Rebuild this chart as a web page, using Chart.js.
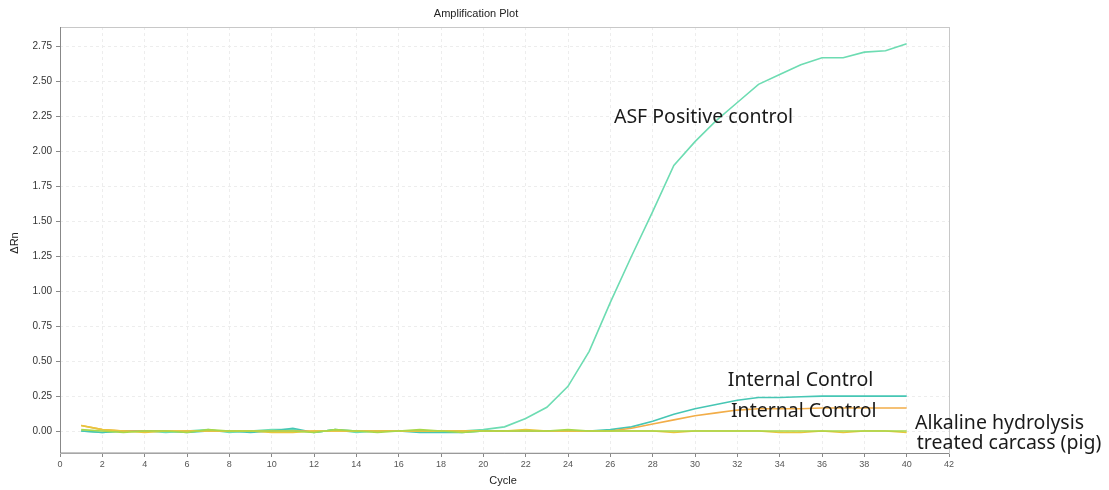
<!DOCTYPE html>
<html>
<head>
<meta charset="utf-8">
<script src="https://cdn.jsdelivr.net/npm/chart.js@4/dist/chart.umd.min.js"></script>
<style>
  html, body { margin: 0; padding: 0; background: #fff; }
  #wrap { width: 1109px; height: 490px; position: relative; }
</style>
</head>
<body>
<div id="wrap"><canvas id="plot"></canvas></div>
<script>
var cycles = [];
for (var c = 1; c <= 40; c++) cycles.push(c);

var asfPositive = [0.00, -0.01, 0.00, 0.00, -0.01, 0.00, 0.01, -0.01, 0.00, 0.01,
  0.01, -0.01, 0.01, -0.01, 0.00, 0.00, 0.00, 0.00, 0.00, 0.01,
  0.03, 0.09, 0.17, 0.32, 0.57, 0.92, 1.25, 1.57, 1.90, 2.07,
  2.22, 2.35, 2.48, 2.55, 2.62, 2.67, 2.67, 2.71, 2.72, 2.77];
var internalControlA = [0.00, -0.01, 0.00, 0.00, 0.00, -0.01, 0.00, 0.00, -0.01, 0.00,
  0.02, -0.01, 0.01, 0.00, 0.00, 0.00, -0.01, -0.01, -0.01, 0.00,
  0.00, 0.00, 0.00, 0.00, 0.00, 0.01, 0.03, 0.07, 0.12, 0.16,
  0.19, 0.22, 0.24, 0.24, 0.245, 0.25, 0.25, 0.25, 0.25, 0.25];
var internalControlB = [0.04, 0.01, 0.00, 0.00, 0.00, 0.00, 0.00, 0.00, 0.00, 0.00,
  0.00, 0.00, 0.00, 0.00, 0.00, 0.00, 0.00, 0.00, 0.00, 0.00,
  0.00, 0.00, 0.00, 0.00, 0.00, 0.00, 0.02, 0.05, 0.08, 0.11,
  0.13, 0.15, 0.16, 0.16, 0.16, 0.165, 0.165, 0.165, 0.165, 0.165];
var alkalineSample = [0.04, 0.01, 0.00, -0.01, 0.00, 0.00, 0.00, 0.00, 0.00, -0.01,
  -0.01, 0.00, 0.00, 0.00, 0.00, 0.00, 0.00, 0.00, 0.00, 0.00,
  0.00, 0.01, 0.00, 0.00, 0.00, 0.00, 0.00, 0.00, -0.01, 0.00,
  0.00, 0.00, 0.00, -0.01, -0.01, 0.00, -0.01, 0.00, 0.00, -0.01];
var alkalineFam = [0.01, 0.00, -0.01, 0.00, 0.00, -0.01, 0.01, 0.00, 0.00, 0.00,
  0.00, -0.01, 0.01, 0.00, -0.01, 0.00, 0.01, 0.00, -0.01, 0.00,
  0.00, 0.00, 0.00, 0.01, 0.00, 0.00, 0.00, 0.00, 0.00, 0.00,
  0.00, 0.00, 0.00, 0.00, 0.00, 0.00, 0.00, 0.00, 0.00, 0.00];

var yTicks = [0, 0.25, 0.5, 0.75, 1, 1.25, 1.5, 1.75, 2, 2.25, 2.5, 2.75];

// labels placed in data units: [text, cycle, dRn]
var notes = [
  ["ASF Positive control", 26.17, 2.24],
  ["Internal Control", 31.55, 0.365],
  ["Internal Control", 31.7, 0.143],
  ["Alkaline hydrolysis", 40.39, 0.057],
  ["treated carcass (pig)", 40.48, -0.086]
];

function series(label, values, color) {
  return {
    label: label,
    data: values.map(function (v, i) { return { x: cycles[i], y: v }; }),
    borderColor: color,
    backgroundColor: color,
    borderWidth: 1.6,
    pointRadius: 0,
    tension: 0,
    fill: false
  };
}

var decor = {
  id: "decor",
  afterDraw: function (chart) {
    var ctx = chart.ctx, a = chart.chartArea;
    var xs = chart.scales.x, ys = chart.scales.y;
    ctx.save();
    ctx.strokeStyle = "#c8c8c8";
    ctx.lineWidth = 1;
    ctx.strokeRect(a.left + 0.5, a.top + 0.5, a.right - a.left, a.bottom - a.top);
    ctx.strokeStyle = "#888";
    ctx.beginPath();
    ctx.moveTo(a.left + 0.5, a.top);
    ctx.lineTo(a.left + 0.5, a.bottom);
    ctx.lineTo(a.right, a.bottom + 0.5);
    ctx.stroke();

    ctx.fillStyle = "#222";
    ctx.font = "11px 'Liberation Sans', Arial, sans-serif";
    ctx.textAlign = "center";
    ctx.textBaseline = "middle";
    ctx.fillText("Amplification Plot", 476, 14);
    ctx.fillText("Cycle", 503, 481);
    ctx.save();
    ctx.translate(15, 243);
    ctx.rotate(-Math.PI / 2);
    ctx.fillText("\u0394Rn", 0, 0);
    ctx.restore();

    ctx.fillStyle = "#1a1a1a";
    ctx.font = "19.5px 'Noto Sans', 'Open Sans', sans-serif";
    ctx.textAlign = "left";
    notes.forEach(function (n) {
      ctx.fillText(n[0], xs.getPixelForValue(n[1]), ys.getPixelForValue(n[2]));
    });
    ctx.restore();
  }
};

var gridStyle = {
  color: "#ededed",
  tickLength: 4,
  tickColor: "#888",
  tickBorderDash: []
};

new Chart(document.getElementById("plot"), {
  type: "line",
  data: {
    datasets: [
      series("Alkaline FAM", alkalineFam, "#a8d84a"),
      series("Alkaline hydrolysis treated carcass (pig)", alkalineSample, "#e8c63c"),
      series("Internal Control B", internalControlB, "#f2ad48"),
      series("Internal Control A", internalControlA, "#46c6b4"),
      series("ASF Positive control", asfPositive, "#6ddcb2")
    ]
  },
  options: {
    responsive: true,
    maintainAspectRatio: false,
    animation: false,
    layout: { padding: { left: 0, right: 160, top: 27, bottom: 0 } },
    plugins: { legend: { display: false }, tooltip: { enabled: false } },
    scales: {
      x: {
        type: "linear",
        min: 0,
        max: 42,
        afterFit: function (axis) { axis.height = 37; },
        ticks: {
          stepSize: 2,
          color: "#555",
          padding: 2,
          font: { size: 9, family: "'Liberation Sans', Arial, sans-serif" }
        },
        grid: gridStyle,
        border: { display: false, dash: [3, 3] }
      },
      y: {
        min: -0.157,
        max: 2.89,
        afterFit: function (axis) { axis.width = 60; },
        afterBuildTicks: function (axis) {
          axis.ticks = yTicks.map(function (v) { return { value: v }; });
        },
        ticks: {
          color: "#333",
          padding: 4,
          font: { size: 10, family: "'Liberation Sans', Arial, sans-serif" },
          callback: function (v) { return Number(v).toFixed(2); }
        },
        grid: gridStyle,
        border: { display: false, dash: [3, 3] }
      }
    }
  },
  plugins: [decor]
});
</script>
</body>
</html>
